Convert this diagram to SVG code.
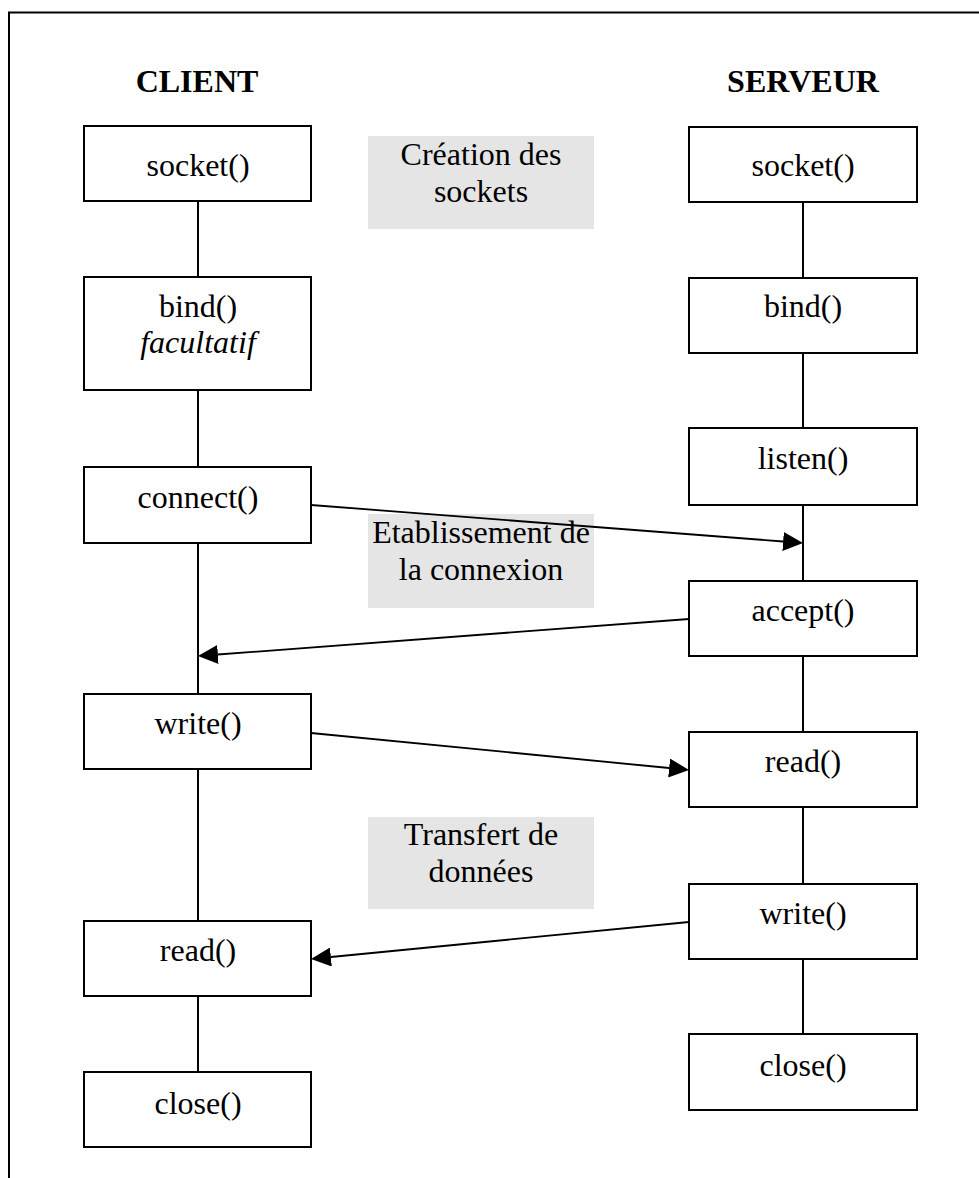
<svg xmlns="http://www.w3.org/2000/svg" width="979" height="1178" viewBox="0 0 979 1178">
<style>
.box{fill:#fff;stroke:#000;stroke-width:2}
.lbl{fill:#e5e5e5;stroke:none}
.t{font-family:"Liberation Serif","Times New Roman",serif;font-size:32px;fill:#000;text-anchor:middle}
.h{font-weight:bold}
.i{font-style:italic}
.ln{stroke:#000;stroke-width:2;fill:none}
.ar{stroke:#000;stroke-width:1.8;fill:none;marker-end:url(#ah)}
</style>
<defs>
<marker id="ah" markerUnits="userSpaceOnUse" markerWidth="21" markerHeight="19" refX="0" refY="9.5" orient="auto" viewBox="0 0 21 19">
<path d="M0,0 L20,9.5 L0,19 z" fill="#000"/>
</marker>
</defs>
<rect width="979" height="1178" fill="#fff"/>
<path d="M9,1178 V12.5 H979" fill="none" stroke="#000" stroke-width="2"/>

<g id="titles">
<text class="t h" x="197" y="92">CLIENT</text>
<text class="t h" x="803" y="92">SERVEUR</text>
</g>

<g id="labels">
<g id="lbl-creation"><rect class="lbl" x="368" y="136" width="226" height="93"/><text class="t" x="481" y="165">Création des</text><text class="t" x="481" y="202">sockets</text></g>
<g id="lbl-etab"><rect class="lbl" x="368" y="514" width="226" height="94"/><text class="t" x="481" y="543">Etablissement de</text><text class="t" x="481" y="580">la connexion</text></g>
<g id="lbl-transfert"><rect class="lbl" x="368" y="817" width="226" height="92"/><text class="t" x="481" y="845">Transfert de</text><text class="t" x="481" y="882">données</text></g>
</g>

<g id="connectors">
<path class="ln" d="M198,201 V277 M198,390 V467 M198,543 V694 M198,769 V921 M198,996 V1072"/>
<path class="ln" d="M803,202 V278 M803,353 V428 M803,505 V581 M803,656 V732 M803,807 V884 M803,959 V1034"/>
<line class="ar" x1="311" y1="505" x2="783.1" y2="541.5"/>
<line class="ar" x1="689" y1="619" x2="217.9" y2="654.5"/>
<line class="ar" x1="311" y1="733" x2="669.1" y2="768"/>
<line class="ar" x1="689" y1="922" x2="330.9" y2="957"/>
</g>

<g id="c-socket"><rect class="box" x="84" y="126" width="227" height="75"/><text class="t" x="198" y="176">socket()</text></g>
<g id="c-bind"><rect class="box" x="84" y="277" width="227" height="113"/><text class="t" x="198" y="317">bind()</text><text class="t i" x="198" y="353">facultatif</text></g>
<g id="c-connect"><rect class="box" x="84" y="467" width="227" height="76"/><text class="t" x="198" y="508">connect()</text></g>
<g id="c-write"><rect class="box" x="84" y="694" width="227" height="75"/><text class="t" x="198" y="734">write()</text></g>
<g id="c-read"><rect class="box" x="84" y="921" width="227" height="75"/><text class="t" x="198" y="961">read()</text></g>
<g id="c-close"><rect class="box" x="84" y="1072" width="227" height="75"/><text class="t" x="198" y="1114">close()</text></g>

<g id="s-socket"><rect class="box" x="689" y="127" width="228" height="75"/><text class="t" x="803" y="176">socket()</text></g>
<g id="s-bind"><rect class="box" x="689" y="278" width="228" height="75"/><text class="t" x="803" y="317">bind()</text></g>
<g id="s-listen"><rect class="box" x="689" y="428" width="228" height="77"/><text class="t" x="803" y="469">listen()</text></g>
<g id="s-accept"><rect class="box" x="689" y="581" width="228" height="75"/><text class="t" x="803" y="621">accept()</text></g>
<g id="s-read"><rect class="box" x="689" y="732" width="228" height="75"/><text class="t" x="803" y="772">read()</text></g>
<g id="s-write"><rect class="box" x="689" y="884" width="228" height="75"/><text class="t" x="803" y="924">write()</text></g>
<g id="s-close"><rect class="box" x="689" y="1034" width="228" height="76"/><text class="t" x="803" y="1076">close()</text></g>
</svg>
